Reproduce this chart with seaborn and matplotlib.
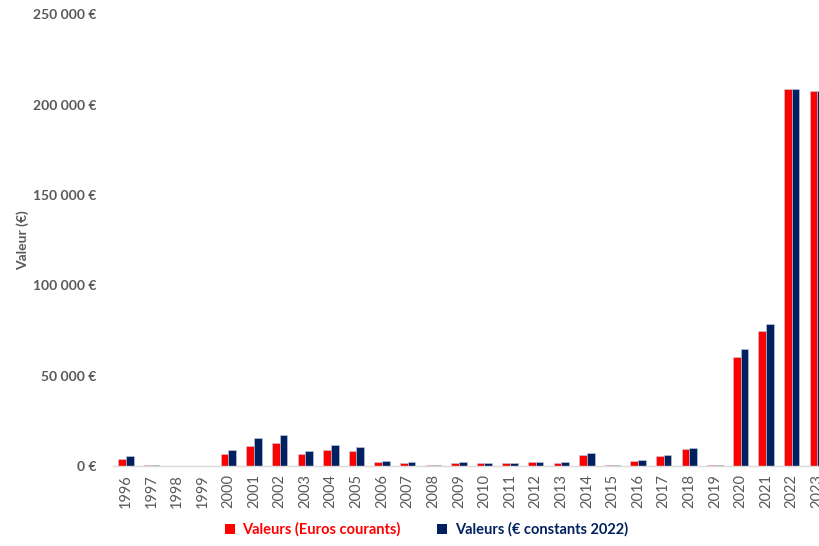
import pandas as pd
import numpy as np
import seaborn as sns
import matplotlib.pyplot as plt
from matplotlib.ticker import FuncFormatter

# Valeurs
years = [str(y) for y in range(1996, 2024)]
courants = [4100, 700, 200, 200, 6400, 11200, 12700, 6400, 8700, 8300,
            2000, 1500, 400, 1500, 1500, 1500, 2000, 1500, 6300, 600,
            2600, 5500, 9400, 600, 60100, 74500, 208500, 207500]
constants = [5400, 800, 200, 200, 8700, 15300, 17000, 8300, 11800, 10700,
             2600, 2000, 400, 2000, 1600, 1600, 2100, 2000, 7300, 600,
             3100, 6100, 9800, 700, 64500, 78500, 208500, 207300]
series = ["Valeurs (Euros courants)", "Valeurs (€ constants 2022)"]
colors = ["#FF0000", "#002060"]

df = pd.DataFrame({
    "Année": years * 2,
    "Valeur": courants + constants,
    "Série": [series[0]] * len(years) + [series[1]] * len(years),
})

sns.set_style("white")
plt.rcParams["font.family"] = ["Lato", "DejaVu Sans"]
gray = "#595959"

fig = plt.figure(figsize=(8.2, 5.46), dpi=100)
ax = fig.add_axes([0.138, 0.1465, 0.8744, 0.8275])

sns.barplot(data=df, x="Année", y="Valeur", hue="Série", palette=colors,
            saturation=1, width=0.6, gap=0, ax=ax,
            edgecolor="#c8d0e0", linewidth=0.4)

ax.set_ylim(0, 250000)
ax.set_xlim(-0.5, len(years) - 0.5)
ax.yaxis.set_major_locator(plt.MultipleLocator(50000))
ax.yaxis.set_major_formatter(FuncFormatter(
    lambda v, p: f"{v:,.0f}".replace(",", " ") + " €"))

for s in ["top", "right", "left"]:
    ax.spines[s].set_visible(False)
ax.spines["bottom"].set_color("#d9d9d9")
ax.spines["bottom"].set_linewidth(1)
ax.tick_params(axis="y", length=0, pad=12, labelsize=10, labelcolor=gray)
ax.tick_params(axis="x", length=0, pad=6, labelsize=10.5, labelcolor=gray,
               rotation=90)
for lab in ax.get_yticklabels():
    lab.set_fontweight("bold")

ax.set_xlabel("")
ax.set_ylabel("Valeur (€)", fontsize=10, fontweight="bold", color=gray,
              labelpad=3)

leg = ax.legend(loc="center", bbox_to_anchor=(0.52, 0.03),
                bbox_transform=fig.transFigure, ncol=2, frameon=False,
                handlelength=0.7, handleheight=0.7, handletextpad=0.5,
                columnspacing=2.5, prop={"weight": "bold", "size": 10.5})
for txt, c in zip(leg.get_texts(), colors):
    txt.set_color(c)
for h in leg.legend_handles:
    h.set_edgecolor("none")

fig.savefig("out.png", dpi=100)
